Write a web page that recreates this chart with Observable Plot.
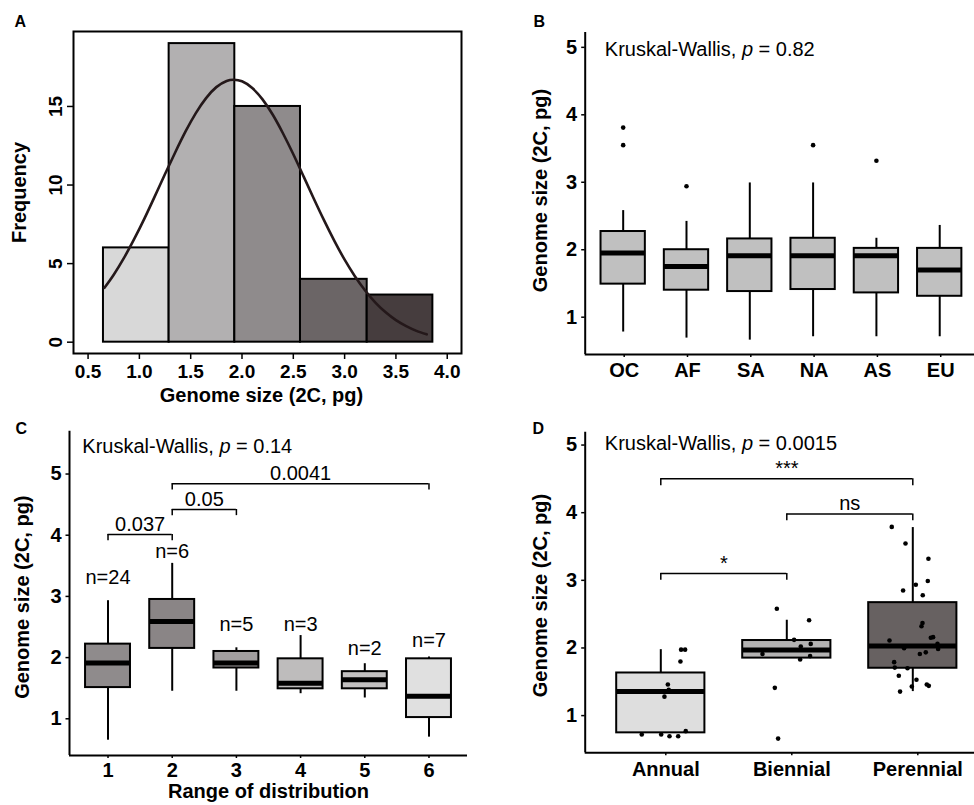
<!DOCTYPE html>
<html><head><meta charset="utf-8">
<script src="https://cdn.jsdelivr.net/npm/d3@7"></script>
<script src="https://cdn.jsdelivr.net/npm/@observablehq/plot@0.6"></script>
<style>
body{margin:0;background:#fff;}
#fig{position:relative;width:974px;height:805px;overflow:hidden;background:#fff;}
#fig > svg{position:absolute;}
</style></head><body><div id="fig"></div>
<script>
// ---------- Panel A: histogram of genome size ----------
const histEdges = [0.65, 1.29, 1.93, 2.57, 3.22, 3.86];
const histCounts = [6, 19, 15, 4, 3];
const curveX = [0.66,0.75,0.85,0.95,1.05,1.15,1.25,1.35,1.45,1.55,1.65,1.75,1.85,1.92,2.0,2.1,2.2,2.3,2.4,2.5,2.6,2.7,2.8,2.9,3.0,3.1,3.2,3.3,3.4,3.5,3.6,3.7,3.8];
const curveY = [3.46,4.29,5.36,6.57,7.88,9.28,10.70,12.09,13.41,14.58,15.53,16.23,16.62,16.7,16.60,16.17,15.45,14.47,13.28,11.96,10.55,9.13,7.75,6.45,5.25,4.20,3.29,2.52,1.90,1.40,1.02,0.72,0.50];
const xTicksA = [0.5,1.0,1.5,2.0,2.5,3.0,3.5,4.0];
const yTicksA = [0,5,10,15];

// ---------- Panel B: by region ----------
const regions = ["OC","AF","SA","NA","AS","EU"];
const bLow  = [0.78,0.69,0.66,0.71,0.71,0.71];
const bQ1   = [1.49,1.40,1.38,1.41,1.36,1.31];
const bMed  = [1.95,1.75,1.91,1.91,1.91,1.70];
const bQ3   = [2.27,2.00,2.16,2.17,2.02,2.02];
const bHigh = [2.58,2.42,2.99,2.99,2.17,2.36];
const bOutRegion = ["OC","OC","AF","NA","AS"];
const bOutValue  = [3.81,3.55,2.94,3.55,3.32];
const bTest = "Kruskal-Wallis, p = 0.82";

// ---------- Panel C: by range of distribution ----------
const ranges = ["1","2","3","4","5","6"];
const cLow  = [0.65,1.45,1.45,1.41,1.34,0.70];
const cQ1   = [1.51,2.15,1.83,1.49,1.49,1.02];
const cMed  = [1.91,2.59,1.91,1.58,1.64,1.37];
const cQ3   = [2.22,2.95,2.10,1.98,1.77,1.98];
const cHigh = [2.93,3.54,2.16,2.36,1.90,2.01];
const cN    = ["n=24","n=6","n=5","n=3","n=2","n=7"];
const cNY   = [3.20,3.63,2.44,2.44,2.05,2.17];
const cPairFrom = [1,2,2];
const cPairTo   = [2,3,6];
const cPairY    = [4.01,4.42,4.84];
const cPairP    = ["0.037","0.05","0.0041"];
const cTest = "Kruskal-Wallis, p = 0.14";

// ---------- Panel D: by life form ----------
const lifeForms = ["Annual","Biennial","Perennial"];
const dLow  = [0.745,1.85,1.355];
const dQ1   = [0.745,1.85,1.70];
const dMed  = [1.355,1.97,2.03];
const dQ3   = [1.63,2.11,2.67];
const dHigh = [1.975,2.41,3.78];
const dPtGroup  = [1,1,1,1,1,1,1,1,1,1,1,
                   2,2,2,2,2,2,2,2,2,2,
                   3,3,3,3,3,3,3,3,3,3,3,3,3,3,3,3,3,3,3,3,3,3,3,3,3,3];
const dPtJitter = [-0.151,0.003,0.069,0.138,0.198,0.056,0.029,0.063,0.156,0.161,0.193,
                   -0.079,0.177,0.058,0.111,0.19,-0.193,0.106,0.185,-0.095,-0.069,
                   -0.167,-0.058,0.124,0.119,0.024,-0.077,0.079,0.077,0.069,0.161,0.143,-0.185,0.196,0.201,-0.069,0.103,0.056,-0.148,-0.143,-0.042,-0.111,0.029,-0.008,0.111,0.127,-0.101];
const dPtValue  = [0.72,0.72,0.695,0.695,0.77,1.46,1.28,1.38,1.80,1.975,1.975,
                   2.58,2.41,2.12,2.02,2.06,1.91,1.83,1.88,1.41,0.66,
                   3.79,3.545,3.32,2.99,2.935,2.85,2.78,2.37,2.32,2.16,2.15,2.11,2.06,1.985,1.995,1.935,1.91,1.79,1.71,1.70,1.59,1.53,1.43,1.46,1.44,1.355];
const dPairFrom = [1,2,1];
const dPairTo   = [3,3,2];
const dPairY    = [4.50,3.98,3.10];
const dPairP    = ["***","ns","*"];
const dTest = "Kruskal-Wallis, p = 0.0015";

const yTitle = "Genome size (2C, pg)";

// ---------- styles ----------
const FONT = '"Liberation Sans", Arial, Helvetica, sans-serif';
const TICK = 20, TICKA = 19, TITLE = 20, NOTE = 20, LETTER = 16;
const histFills = ["#d8d8d8","#b2b0b1","#8f8b8c","#6b6566","#463d3e"];
const bFills = ["#c0c0c0","#c0c0c0","#c0c0c0","#c0c0c0","#c0c0c0","#c0c0c0"];
const cFills = ["#8f8b8c","#8a8586","#a19e9f","#bebcbc","#c2c0c0","#e0e0e0"];
const dFills = ["#dedede","#b3b2b2","#676161"];

const fig = document.getElementById("fig");
function place(svg, left, top) { svg.style.left = left + "px"; svg.style.top = top + "px"; fig.append(svg); }

function boxRows(cats, low, q1, med, q3, high) {
  return cats.map((c, i) => ({pos: i + 1, cat: c, low: low[i], q1: q1[i], med: med[i], q3: q3[i], high: high[i]}));
}
function boxMarks(rows, fills, half) {
  return [
    Plot.ruleX(rows, {x: "pos", y1: "q3", y2: "high", stroke: "black", strokeWidth: 2}),
    Plot.ruleX(rows, {x: "pos", y1: "low", y2: "q1", stroke: "black", strokeWidth: 2}),
    Plot.rect(rows, {x1: d => d.pos - half, x2: d => d.pos + half, y1: "q1", y2: "q3", fill: (d, i) => fills[i], stroke: "black", strokeWidth: 2}),
    Plot.ruleY(rows, {y: "med", x1: d => d.pos - half, x2: d => d.pos + half, stroke: "black", strokeWidth: 5})
  ];
}
function bracketMarks(from, to, ys, labels, tip) {
  const rows = from.map((f, i) => ({f, t: to[i], y: ys[i], lab: labels[i]}));
  return [
    Plot.ruleY(rows, {y: "y", x1: "f", x2: "t", stroke: "black", strokeWidth: 1.5}),
    Plot.ruleX(rows, {x: "f", y1: d => d.y - tip, y2: "y", stroke: "black", strokeWidth: 1.5}),
    Plot.ruleX(rows, {x: "t", y1: d => d.y - tip, y2: "y", stroke: "black", strokeWidth: 1.5}),
    Plot.text(rows, {x: d => (d.f + d.t) / 2, y: "y", text: "lab", dy: -4, lineAnchor: "bottom", fontSize: NOTE, fontWeight: "normal"})
  ];
}
function catAxes(cats, yTicks, pad, shift) {
  return [
    Plot.axisY(yTicks, {tickSize: 3.5, tickPadding: 4.5, tickFormat: d => String(d), fontSize: TICK, fontWeight: "bold", label: null, strokeWidth: 1.5}),
    Plot.axisX(cats.map((c, i) => i + 1), {tickSize: 3, tickPadding: pad, dx: shift, tickFormat: i => cats[i - 1], fontSize: TICK, fontWeight: "bold", label: null, strokeWidth: 1.5})
  ];
}
function italicP(svg) {
  svg.querySelectorAll("text").forEach(t => {
    const s = t.textContent;
    if (s.startsWith("Kruskal-Wallis, p")) {
      const rest = s.slice("Kruskal-Wallis, p".length);
      t.textContent = "";
      t.append(document.createTextNode("Kruskal-Wallis, "));
      const ts = document.createElementNS("http://www.w3.org/2000/svg", "tspan");
      ts.setAttribute("font-style", "italic");
      ts.textContent = "p";
      t.append(ts, document.createTextNode(rest));
    }
  });
  return svg;
}

// ---------- Panel A ----------
const histRows = histCounts.map((c, i) => ({x1: histEdges[i], x2: histEdges[i + 1], n: c}));
const curveRows = curveX.map((x, i) => ({x, y: curveY[i]}));
const A = Plot.plot({
  width: 487, height: 410, marginLeft: 73, marginRight: 26, marginTop: 31, marginBottom: 57,
  x: {domain: [0.358, 4.139]},
  y: {domain: [-0.72, 19.77]},
  color: {type: "identity"},
  style: {fontFamily: FONT, background: "transparent", color: "black"},
  marks: [
    Plot.rect(histRows, {x1: "x1", x2: "x2", y1: 0, y2: "n", fill: (d, i) => histFills[i], stroke: "black", strokeWidth: 2}),
    Plot.line(curveRows, {x: "x", y: "y", stroke: "#24181a", strokeWidth: 2.6, curve: "natural"}),
    Plot.frame({stroke: "black", strokeWidth: 2}),
    Plot.axisX(xTicksA, {tickSize: 6, tickPadding: 5, tickFormat: d => d.toFixed(1), fontSize: TICKA, fontWeight: "bold", label: null, strokeWidth: 1.5}),
    Plot.axisY(yTicksA, {tickSize: 6, tickFormat: () => "", label: null, strokeWidth: 1.5}),
    Plot.text(yTicksA, {y: d => d, text: d => String(d), frameAnchor: "left", rotate: -90, dx: -12, lineAnchor: "bottom", textAnchor: "middle", fontSize: TICKA, fontWeight: "bold"}),
    Plot.text(["Frequency"], {frameAnchor: "left", rotate: -90, dx: -48, lineAnchor: "bottom", textAnchor: "middle", fontSize: TITLE, fontWeight: "bold"}),
    Plot.text(["Genome size (2C, pg)"], {frameAnchor: "bottom", dx: -6, dy: 48.7, lineAnchor: "bottom", textAnchor: "middle", fontSize: TITLE, fontWeight: "bold"}),
    Plot.text(["A"], {frameAnchor: "top-left", dx: -59, dy: -5, textAnchor: "start", lineAnchor: "bottom", fontSize: LETTER, fontWeight: "bold"})
  ]
});
place(A, 0, 0);

// ---------- Panel B ----------
const bRows = boxRows(regions, bLow, bQ1, bMed, bQ3, bHigh);
const bOut = bOutRegion.map((r, i) => ({pos: regions.indexOf(r) + 1, v: bOutValue[i]}));
const B = Plot.plot({
  width: 495, height: 410, marginLeft: 97.7, marginRight: 4.8, marginTop: 32, marginBottom: 56,
  x: {domain: [0.4, 6.6]},
  y: {domain: [0.447, 5.22]},
  color: {type: "identity"},
  style: {fontFamily: FONT, background: "transparent", color: "black"},
  marks: [
    ...boxMarks(bRows, bFills, 0.35),
    Plot.dot(bOut, {x: "pos", y: "v", r: 2.3, fill: "black", stroke: "none"}),
    Plot.ruleX([0.4], {stroke: "black", strokeWidth: 2}),
    Plot.ruleY([0.447], {stroke: "black", strokeWidth: 2}),
    ...catAxes(regions, [1,2,3,4,5], 5, 1),
    Plot.text([bTest], {x: 0.71, y: 4.877, textAnchor: "start", lineAnchor: "bottom", fontSize: NOTE, fontWeight: "normal"}),
    Plot.text([yTitle], {frameAnchor: "left", rotate: -90, dx: -37.7, dy: -3, lineAnchor: "bottom", textAnchor: "middle", fontSize: TITLE, fontWeight: "bold"}),
    Plot.text(["B"], {frameAnchor: "top-left", dx: -51.7, dy: -6, textAnchor: "start", lineAnchor: "bottom", fontSize: LETTER, fontWeight: "bold"})
  ]
});
place(italicP(B), 487, 0);

// ---------- Panel C ----------
const cRows = boxRows(ranges, cLow, cQ1, cMed, cQ3, cHigh);
const cNRows = cN.map((t, i) => ({pos: i + 1, y: cNY[i], t}));
const C = Plot.plot({
  width: 487, height: 395, marginLeft: 69, marginRight: 20, marginTop: 20.7, marginBottom: 50,
  x: {domain: [0.4, 6.6]},
  y: {domain: [0.40, 5.70]},
  color: {type: "identity"},
  style: {fontFamily: FONT, background: "transparent", color: "black"},
  marks: [
    ...boxMarks(cRows, cFills, 0.35),
    Plot.text(cNRows, {x: "pos", y: "y", text: "t", lineAnchor: "bottom", fontSize: NOTE, fontWeight: "normal"}),
    ...bracketMarks(cPairFrom, cPairTo, cPairY, cPairP, 0.1),
    Plot.ruleX([0.4], {stroke: "black", strokeWidth: 2}),
    Plot.ruleY([0.40], {stroke: "black", strokeWidth: 2}),
    ...catAxes(ranges, [1,2,3,4,5], 4, 0),
    Plot.text([cTest], {x: 0.6, y: 5.35, textAnchor: "start", lineAnchor: "bottom", fontSize: NOTE, fontWeight: "normal"}),
    Plot.text([yTitle], {frameAnchor: "left", rotate: -90, dx: -40.7, dy: 3.8, lineAnchor: "bottom", textAnchor: "middle", fontSize: TITLE, fontWeight: "bold"}),
    Plot.text(["Range of distribution"], {frameAnchor: "bottom", dy: 42.5, lineAnchor: "bottom", textAnchor: "middle", fontSize: TITLE, fontWeight: "bold"}),
    Plot.text(["C"], {frameAnchor: "top-left", dx: -54, dy: 2.3, textAnchor: "start", lineAnchor: "bottom", fontSize: LETTER, fontWeight: "bold"})
  ]
});
place(italicP(C), 0, 410);

// ---------- Panel D ----------
const dRows = boxRows(lifeForms, dLow, dQ1, dMed, dQ3, dHigh);
const dPts = dPtGroup.map((g, i) => ({x: g + dPtJitter[i], y: dPtValue[i]}));
const D = Plot.plot({
  width: 505, height: 395, marginLeft: 97.7, marginRight: 4.1, marginTop: 21.7, marginBottom: 52.7,
  x: {domain: [0.4, 3.6]},
  y: {domain: [0.45, 5.19]},
  color: {type: "identity"},
  style: {fontFamily: FONT, background: "transparent", color: "black"},
  marks: [
    ...boxMarks(dRows, dFills, 0.35),
    Plot.dot(dPts, {x: "x", y: "y", r: 2.3, fill: "black", stroke: "none"}),
    ...bracketMarks(dPairFrom, dPairTo, dPairY, dPairP, 0.1),
    Plot.ruleX([0.4], {stroke: "black", strokeWidth: 2}),
    Plot.ruleY([0.45], {stroke: "black", strokeWidth: 2}),
    ...catAxes(lifeForms, [1,2,3,4,5], 6, 5),
    Plot.text([dTest], {x: 0.556, y: 4.93, textAnchor: "start", lineAnchor: "bottom", fontSize: NOTE, fontWeight: "normal"}),
    Plot.text([yTitle], {frameAnchor: "left", rotate: -90, dx: -37.7, dy: 3, lineAnchor: "bottom", textAnchor: "middle", fontSize: TITLE, fontWeight: "bold"}),
    Plot.text(["D"], {frameAnchor: "top-left", dx: -52.7, dy: 1.3, textAnchor: "start", lineAnchor: "bottom", fontSize: LETTER, fontWeight: "bold"})
  ]
});
place(italicP(D), 487, 410);
</script></body></html>
